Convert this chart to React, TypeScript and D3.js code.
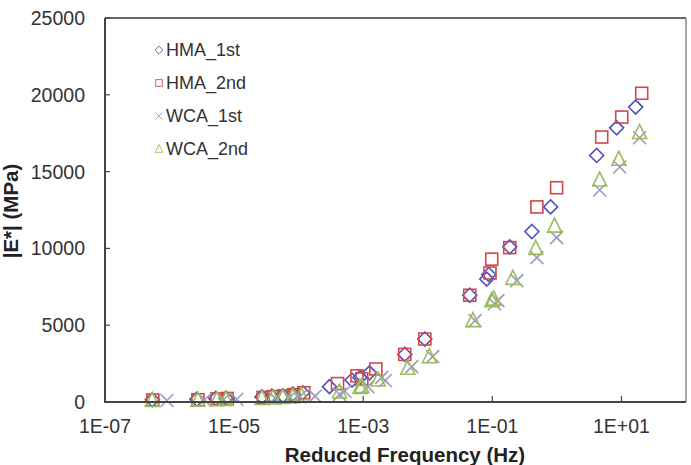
import React from "react";
import * as d3 from "d3";

const yTicks = [0, 5000, 10000, 15000, 20000, 25000];
const xTicks = [1e-7, 1e-5, 1e-3, 1e-1, 1e1];
const xTickLabels = ["1E-07", "1E-05", "1E-03", "1E-01", "1E+01"];

const hma1F = [5.4e-7, 2.65e-6, 5.2e-6, 7.5e-6, 2.7e-5, 3.85e-5, 5.7e-5, 8.1e-5, 1.15e-4, 3.0e-4, 6.7e-4, 8.9e-4, 1.25e-3, 4.4e-3, 9.0e-3, 4.47e-2, 8.2e-2, 8.8e-2, 0.186, 0.41, 0.8, 4.13, 8.43, 16.6];
const hma1E = [150, 180, 230, 250, 330, 380, 420, 520, 600, 1000, 1430, 1600, 1900, 3100, 4100, 6950, 8000, 8300, 10100, 11100, 12700, 16050, 17850, 19200];

const hma2F = [5.5e-7, 2.75e-6, 5.4e-6, 7.8e-6, 2.8e-5, 4.0e-5, 5.9e-5, 8.4e-5, 1.2e-4, 4.0e-4, 8.0e-4, 9.5e-4, 1.57e-3, 4.4e-3, 9.0e-3, 4.47e-2, 9.2e-2, 9.8e-2, 0.186, 0.49, 0.99, 4.95, 10.1, 20.6];
const hma2E = [130, 150, 200, 230, 300, 350, 400, 480, 600, 1200, 1700, 1500, 2150, 3100, 4100, 6950, 8400, 9300, 10050, 12700, 13950, 17250, 18550, 20100];

const wca1F = [9.1e-7, 3.5e-6, 6.9e-6, 1.1e-5, 4.3e-5, 7.3e-5, 1.04e-4, 1.8e-4, 4.3e-4, 5.2e-4, 1.18e-3, 1.94e-3, 2.2e-3, 5.65e-3, 1.19e-2, 5.4e-2, 0.108, 0.122, 0.24, 0.49, 0.99, 4.6, 9.4, 19.1];
const wca1E = [100, 130, 160, 180, 250, 300, 330, 380, 500, 700, 1000, 1600, 1400, 2300, 2950, 5300, 6400, 6600, 7900, 9400, 10700, 13800, 15300, 17200];

const wca2F = [5.4e-7, 2.75e-6, 5.4e-6, 7.5e-6, 2.7e-5, 4.0e-5, 5.7e-5, 8.1e-5, 1.1e-4, 4.3e-4, 8.9e-4, 9.5e-4, 1.7e-3, 4.9e-3, 1.06e-2, 5.0e-2, 9.8e-2, 0.105, 0.208, 0.47, 0.92, 4.6, 9.1, 19.1];
const wca2E = [100, 120, 150, 170, 230, 270, 300, 350, 420, 650, 950, 1000, 1430, 2200, 2950, 5300, 6600, 6700, 8050, 10000, 11450, 14450, 15800, 17550];

const seriesNames = ["HMA_1st", "HMA_2nd", "WCA_1st", "WCA_2nd"];
const seriesColors = ["#5050bb", "#d04848", "#9a9abf", "#9cbd5a"];
const seriesShapes = ["diamond", "square", "cross", "triangle"];
const seriesF = [hma1F, hma2F, wca1F, wca2F];
const seriesE = [hma1E, hma2E, wca1E, wca2E];

const W = 691;
const H = 465;
const L = 105, R = 686, T = 18, B = 402;

function Marker({ shape, x, y, color }: { shape: string; x: number; y: number; color: string }) {
  const sw = 1.6;
  if (shape === "diamond") {
    const s = 7;
    return <path d={`M${x},${y - s}L${x + s},${y}L${x},${y + s}L${x - s},${y}Z`} fill="none" stroke={color} strokeWidth={sw} />;
  }
  if (shape === "square") {
    const s = 6;
    return <rect x={x - s} y={y - s} width={2 * s} height={2 * s} fill="none" stroke={color} strokeWidth={sw} />;
  }
  if (shape === "cross") {
    const s = 6.5;
    return <path d={`M${x - s},${y - s}L${x + s},${y + s}M${x - s},${y + s}L${x + s},${y - s}`} fill="none" stroke={color} strokeWidth={sw} />;
  }
  return <path d={`M${x},${y - 8}L${x + 7},${y + 6}L${x - 7},${y + 6}Z`} fill="none" stroke={color} strokeWidth={sw} />;
}

export default function App() {
  const x = d3.scaleLog().domain([1e-7, 1e2]).range([L, R]);
  const y = d3.scaleLinear().domain([0, 25000]).range([B, T]);
  const font = "Arial, 'Liberation Sans', sans-serif";

  return (
    <svg width={W} height={H} style={{ position: "absolute", left: 0, top: 0 }} fontFamily={font}>
      <rect width={W} height={H} fill="#fff" />
      {/* frame */}
      <line x1={L} y1={T} x2={R} y2={T} stroke="#333" strokeWidth={1.5} />
      <line x1={R} y1={T} x2={R} y2={B} stroke="#888" strokeWidth={1.5} />
      {/* y ticks */}
      {yTicks.map((t) => (
        <g key={t}>
          <line x1={L} x2={L + 5} y1={y(t)} y2={y(t)} stroke="#444" strokeWidth={1.2} />
          <text x={85} y={y(t)} dy="0.36em" textAnchor="end" fontSize={19.5} fill="#333">{t}</text>
        </g>
      ))}
      {/* x ticks */}
      {xTicks.map((t, i) => (
        <g key={i}>
          <line x1={x(t)} x2={x(t)} y1={B} y2={B - 6} stroke="#444" strokeWidth={1.2} />
          <text x={x(t)} y={433} textAnchor="middle" fontSize={19.5} fill="#333">{xTickLabels[i]}</text>
        </g>
      ))}
      {/* data */}
      {seriesNames.map((name, si) => (
        <g key={name}>
          {seriesF[si].map((f, i) => (
            <Marker key={i} shape={seriesShapes[si]} x={x(f)} y={y(seriesE[si][i])} color={seriesColors[si]} />
          ))}
        </g>
      ))}
      {/* axes */}
      <line x1={L} y1={T} x2={L} y2={B + 1} stroke="#444" strokeWidth={2} />
      <line x1={L - 1} y1={B} x2={R} y2={B} stroke="#444" strokeWidth={2} />
      {/* legend */}
      {seriesNames.map((name, si) => {
        const ly = 50 + si * 33;
        return (
          <g key={name}>
            <g transform={`translate(${159},${ly}) scale(0.55) translate(${-159},${-ly})`}>
              <Marker shape={seriesShapes[si]} x={159} y={ly} color={seriesColors[si]} />
            </g>
            <text x={166} y={ly} dy="0.36em" fontSize={18} fill="#333">{name}</text>
          </g>
        );
      })}
      {/* titles */}
      <text x={405} y={462} textAnchor="middle" fontSize={20.5} fontWeight="bold" fill="#222">Reduced Frequency (Hz)</text>
      <text transform={`translate(18,211) rotate(-90)`} textAnchor="middle" fontSize={20.5} fontWeight="bold" fill="#222">|E*| (MPa)</text>
    </svg>
  );
}
